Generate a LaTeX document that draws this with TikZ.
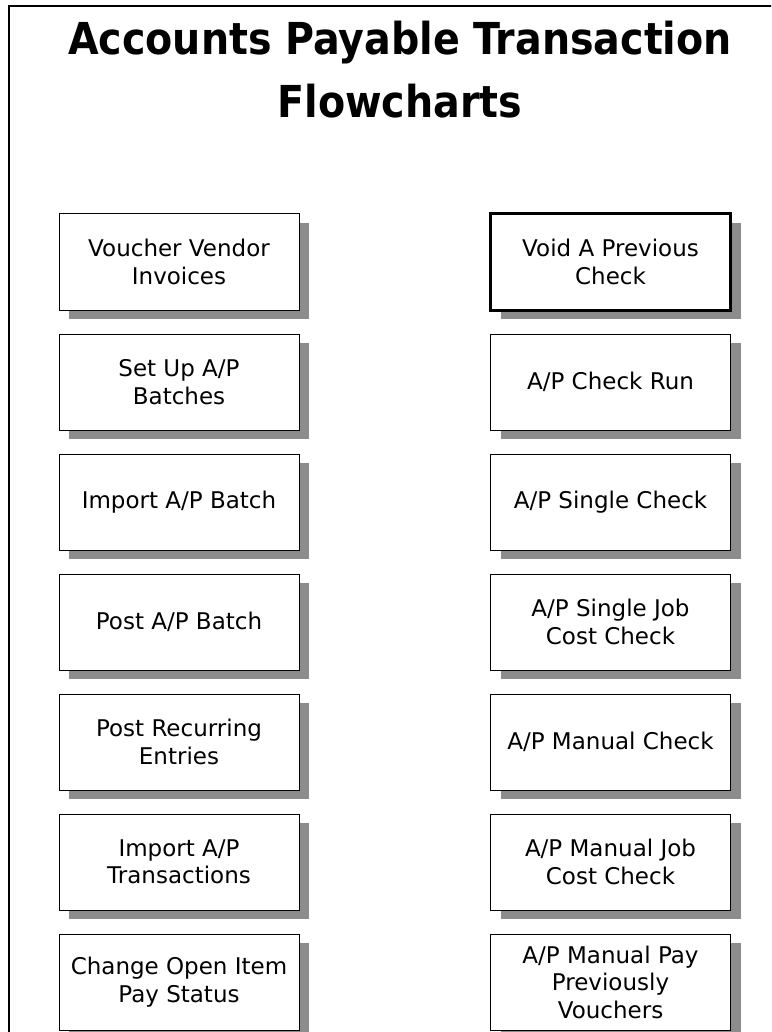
\documentclass[tikz,border=0pt]{standalone}
\usepackage{fontspec}
\setmainfont{DejaVu Sans}
\newfontfamily\titlefont{DejaVu Sans Condensed}
\usetikzlibrary{shadows}
\definecolor{shadowgray}{RGB}{140,140,140}

\begin{document}
\begin{tikzpicture}
                    [x=1pt, y=-1pt,
                     every node/.style={font=\fontsize{23}{27.5}\selectfont, align=center},
                     task/.style={draw, line width=1pt, fill=white, inner sep=0pt,
                                  minimum width=240pt, minimum height=96pt,
                                  drop shadow={shadow xshift=10pt, shadow yshift=-9pt,
                                               fill=shadowgray, opacity=1}},
                     current/.style={task, line width=3pt}]
                    \clip (0,0) rectangle (771,1032);
                    \draw[line width=2pt] (8.5,1040) -- (8.5,6) -- (780,6);
                    \node[anchor=base, font=\titlefont\bfseries\fontsize{44}{63}\selectfont]
                        (title) at (400,118) {Accounts Payable Transaction\\Flowcharts};
                    % left column
                    \node[task] (vvi) at (179,262) {Voucher Vendor\\Invoices};
                    \node[task] (sub) at (179,382) {Set Up A/P\\Batches};
                    \node[task] (iab) at (179,502) {Import A/P Batch};
                    \node[task] (pab) at (179,622) {Post A/P Batch};
                    \node[task] (pre) at (179,742) {Post Recurring\\Entries};
                    \node[task] (iat) at (179,862) {Import A/P\\Transactions};
                    \node[task] (cps) at (179,982) {Change Open Item\\Pay Status};
                    % right column
                    \node[current] (vpc) at (610.5,262) {Void A Previous\\Check};
                    \node[task] (cr) at (610.5,382) {A/P Check Run};
                    \node[task] (sc) at (610.5,502) {A/P Single Check};
                    \node[task] (sjc) at (610.5,622) {A/P Single Job\\Cost Check};
                    \node[task] (mc) at (610.5,742) {A/P Manual Check};
                    \node[task] (mjc) at (610.5,862) {A/P Manual Job\\Cost Check};
                    \node[task] (mpv) at (610.5,982) {A/P Manual Pay\\Previously\\Vouchers};
                \end{tikzpicture}
\end{document}
